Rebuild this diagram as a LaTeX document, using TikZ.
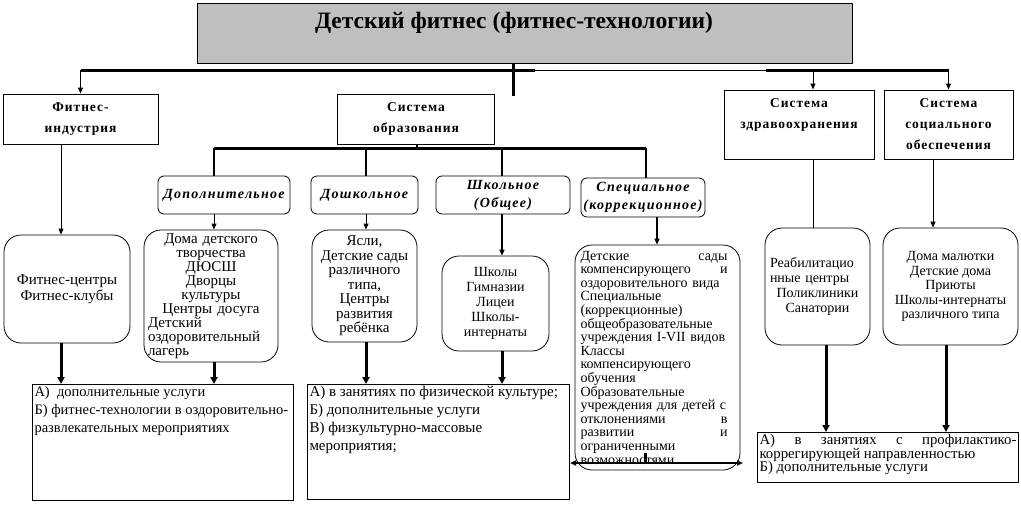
\documentclass[tikz,border=0pt]{standalone}
\usepackage{fontspec}
\setmainfont{Liberation Serif}
\newfontfamily\headfont{Liberation Serif}[LetterSpace=7]
\newfontfamily\kindfont{Liberation Serif}[LetterSpace=9]
\usetikzlibrary{arrows.meta, positioning}

\begin{document}
\begin{tikzpicture}[
    x=1pt, y=-1pt,
    headbox/.style={rectangle, draw, line width=1pt, inner sep=0pt, align=center, font=\headfont\bfseries\fontsize{13.5}{21}\selectfont},
    kindbox/.style={rectangle, draw, rounded corners=6pt, line width=0.8pt, inner sep=0pt, align=center, font=\kindfont\bfseries\itshape\fontsize{14}{18}\selectfont},
    placebox/.style={rectangle, draw, rounded corners=17pt, line width=0.8pt, inner sep=0pt, align=center, font=\fontsize{14}{14.5}\selectfont},
    outbox/.style={rectangle, draw, line width=1pt, inner sep=2pt, anchor=north west},
    bus/.style={line width=3pt},
    drop/.style={line width=2pt},
    link/.style={line width=1pt},
    arrow/.style={-{Triangle[length=6pt, width=5pt]}, line width=1pt},
    feed/.style={-{Triangle[length=7pt, width=7pt]}, line width=3pt}
]
\useasboundingbox (0,0) rectangle (1021,504);

% title
\node[rectangle, draw, line width=1pt, fill=gray!50, minimum width=655pt, minimum height=60pt] (title) at (524.5,33) {};
\node[font=\bfseries\fontsize{23.5}{23}\selectfont] (titletext) at (514,23) {Детский фитнес (фитнес-технологии)};

% systems
\node[headbox, minimum width=155pt, minimum height=50pt] (fitind) at (80.5,119) {Фитнес-\\индустрия};
\node[headbox, minimum width=157pt, minimum height=50pt] (edu) at (416,119) {Система\\образования};
\node[headbox, minimum width=150pt, minimum height=69pt] (health) at (799,124.5) {Система\\здравоохранения\\\mbox{}};
\node[headbox, minimum width=129pt, minimum height=69pt] (social) at (948.5,124.5) {Система\\социального\\обеспечения};

% kinds of education
\node[kindbox, minimum width=132pt, minimum height=38pt] (dop) at (224,195) {Дополнительное};
\node[kindbox, minimum width=107pt, minimum height=38pt] (dosh) at (364.5,195) {Дошкольное};
\node[kindbox, minimum width=134pt, minimum height=38pt] (shk) at (503,195) {Школьное\\(Общее)};
\node[kindbox, minimum width=124pt, minimum height=39pt] (spec) at (643,197.5) {Специальное\\(коррекционное)};

% institutions
\node[placebox, minimum width=126pt, minimum height=108pt, font=\fontsize{15}{16}\selectfont] (clubs) at (67,289) {Фитнес-центры\\Фитнес-клубы};
\node[placebox, minimum width=134pt, minimum height=132pt, text width=126pt, font=\fontsize{15}{14}\selectfont] (houses) at (211,296) {Дома детского\\творчества\\ДЮСШ\\Дворцы\\культуры\\Центры досуга\\\makebox[126pt][l]{Детский}\\\makebox[126pt][l]{оздоровительный}\\\makebox[126pt][l]{лагерь}};
\node[placebox, minimum width=105pt, minimum height=112pt, font=\fontsize{15}{14.5}\selectfont] (nursery) at (364.5,286) {Ясли,\\Детские сады\\различного\\типа,\\Центры\\развития\\ребёнка};
\node[placebox, minimum width=107pt, minimum height=95pt, font=\fontsize{14}{15}\selectfont] (schools) at (495.5,303.5) {Школы\\Гимназии\\Лицеи\\Школы-\\интернаты};
\node[placebox, minimum width=165pt, minimum height=225pt, text width=154pt, align=left, font=\fontsize{14}{13.6}\selectfont] (special) at (657.5,357.5) {\makebox[147pt]{Детские\hfill сады}\\
\makebox[147pt]{компенсирующего\hfill и}\\
оздоровительного вида\\
Специальные\\
(коррекционные)\\
общеобразовательные\\
учреждения I-VII видов\\
Классы\\
компенсирующего\\
обучения\\
Образовательные\\
учреждения для детей с\\
\makebox[147pt]{отклонениями\hfill в}\\
\makebox[147pt]{развитии\hfill и}\\
ограниченными\\
возможностями};
\node[placebox, minimum width=105pt, minimum height=117pt, text width=95pt, font=\fontsize{14}{15}\selectfont] (rehab) at (817.5,286.5) {\makebox[95pt][l]{Реабилитацио}\\\makebox[95pt][l]{нные центры}\\Поликлиники\\Санатории};
\node[placebox, minimum width=135pt, minimum height=117pt] (orphan) at (950.5,286.5) {Дома малютки\\Детские дома\\Приюты\\Школы-интернаты\\различного типа};

% forms of work
\node[outbox] (outA) at (32,384) {\parbox[c][112pt][t]{257pt}{\raggedright\fontsize{14.5}{18}\selectfont А)~~дополнительные услуги\\Б) фитнес-технологии в оздоровительно-\\развлекательных мероприятиях}};
\node[outbox] (outB) at (307,384) {\parbox[c][111pt][t]{258pt}{\raggedright\fontsize{15}{18}\selectfont А) в занятиях по физической культуре;\\Б) дополнительные услуги\\В) физкультурно-массовые\\мероприятия;}};
\node[outbox] (outC) at (757,432) {\parbox[c][46pt][t]{257pt}{\raggedright\fontsize{14.8}{13.5}\selectfont\makebox[257pt][s]{А) в занятиях с профилактико-}\\коррегирующей направленностью\\Б)~дополнительные услуги}};

% top bus
\coordinate (hub) at (513,70);
\coordinate (thinA) at (535,70);
\coordinate (thinB) at (766,70);
\coordinate (hdrop) at (813,70);
\draw[bus] (title.south -| hub) -- ++(0,32);
\draw[bus] (hub -| fitind) -- (thinA);
\draw[link] (thinA) -- (thinB);
\draw[bus] (thinB) -- (hub -| social);
\draw[arrow] (hub -| fitind) -- (fitind.north);
\draw[arrow] (hdrop) -- (hdrop |- health.north);
\draw[arrow] (hub -| social) -- (social.north);

% education bus
\coordinate (ebus) at (417,148);
\coordinate (colA) at (214,148);
\coordinate (colB) at (366,148);
\coordinate (colC) at (502,148);
\coordinate (colD) at (646,148);
\draw[drop] (edu.south -| ebus) -- (ebus);
\draw[bus] (colA) -- (colD);
\foreach \c/\n in {colA/dop, colB/dosh, colC/shk, colD/spec}
    \draw[drop] (\c) -- (\c |- \n.north);

% down to institutions
\coordinate (colE) at (657,217);
\coordinate (colF) at (61,144);
\coordinate (colG) at (933,159);
\draw[arrow] (colF |- fitind.south) -- (colF |- clubs.north);
\draw[arrow] (colA |- dop.south) -- (colA |- houses.north);
\draw[arrow] (colB |- dosh.south) -- (colB |- nursery.north);
\draw[arrow, line width=1.5pt] (colC |- shk.south) -- (colC |- schools.north);
\draw[arrow, line width=1.5pt] (colE |- spec.south) -- (colE |- special.north);
\draw[link] (hdrop |- health.south) -- (hdrop |- rehab.north);
\draw[arrow] (colG |- social.south) -- (colG |- orphan.north);

% down to forms of work
\coordinate (colH) at (826,345);
\coordinate (colI) at (946,345);
\draw[feed] (colF |- clubs.south) -- (colF |- outA.north);
\draw[feed] (colA |- houses.south) -- (colA |- outA.north);
\draw[feed] (colB |- nursery.south) -- (colB |- outB.north);
\draw[feed] (colC |- schools.south) -- (colC |- outB.north);
\draw[feed] (colH |- rehab.south) -- (colH |- outC.north);
\draw[feed] (colI |- orphan.south) -- (colI |- outC.north);

% special box links
\coordinate (sjoin) at (645,463);
\coordinate (sright) at (743,463);
\draw[line width=3pt] (sjoin) -- ++(0,-10);
\draw[{Triangle[length=6pt, width=5pt]}-{Triangle[length=6pt, width=5pt]}, line width=1.5pt] (outB.east |- sjoin) -- (sright);

\end{tikzpicture}
\end{document}
